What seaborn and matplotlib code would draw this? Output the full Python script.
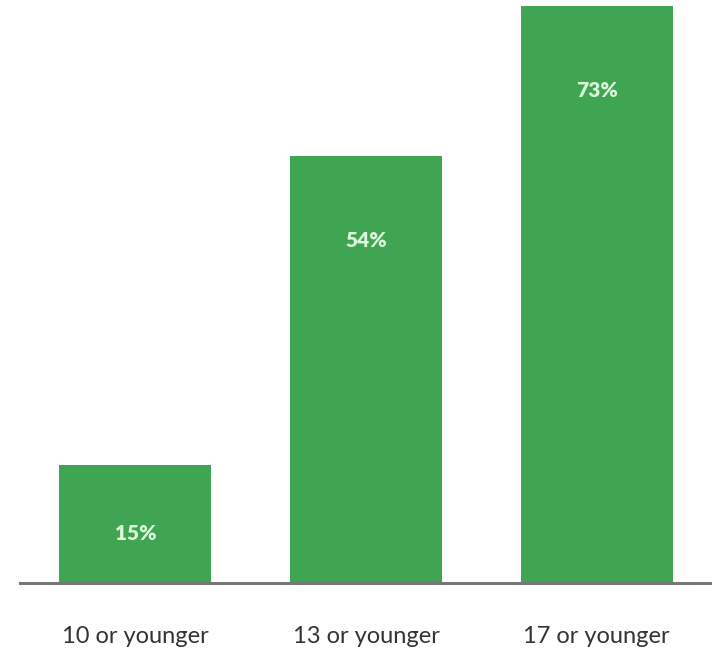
import matplotlib
matplotlib.use("Agg")
import matplotlib.pyplot as plt
import seaborn as sns
import pandas as pd

categories = ["10 or younger", "13 or younger", "17 or younger"]
values = [15, 54, 73]
value_labels = ["15%", "54%", "73%"]

sns.set_theme(style="white")
plt.rcParams["font.family"] = ["Lato", "DejaVu Sans"]

df = pd.DataFrame({"age": categories, "pct": values})

fig = plt.figure(figsize=(7.12, 6.58), dpi=100)
ax = fig.add_axes([20 / 712, 75 / 658, 692 / 712, 583 / 658])
sns.barplot(data=df, x="age", y="pct", color="#3fa553", saturation=1,
            width=0.66, ax=ax, edgecolor="none")

ax.set_xlim(-0.5, 2.5)
ax.set_ylim(0, 73.8)
ax.set_xlabel("")
ax.set_ylabel("")
ax.set_yticks([])
for s in ["top", "right", "left"]:
    ax.spines[s].set_visible(False)
ax.spines["bottom"].set_color("#777777")
ax.spines["bottom"].set_linewidth(2.2)
ax.tick_params(axis="x", length=0, pad=31, labelsize=17, labelcolor="#333333")

for i, (v, lab) in enumerate(zip(values, value_labels)):
    y = v - 10.7 if v > 30 else v * 0.42
    ax.text(i, y, lab, ha="center", va="center", color="#dcf7dc",
            fontsize=15, fontweight="heavy")

fig.savefig("out.png", dpi=100)
